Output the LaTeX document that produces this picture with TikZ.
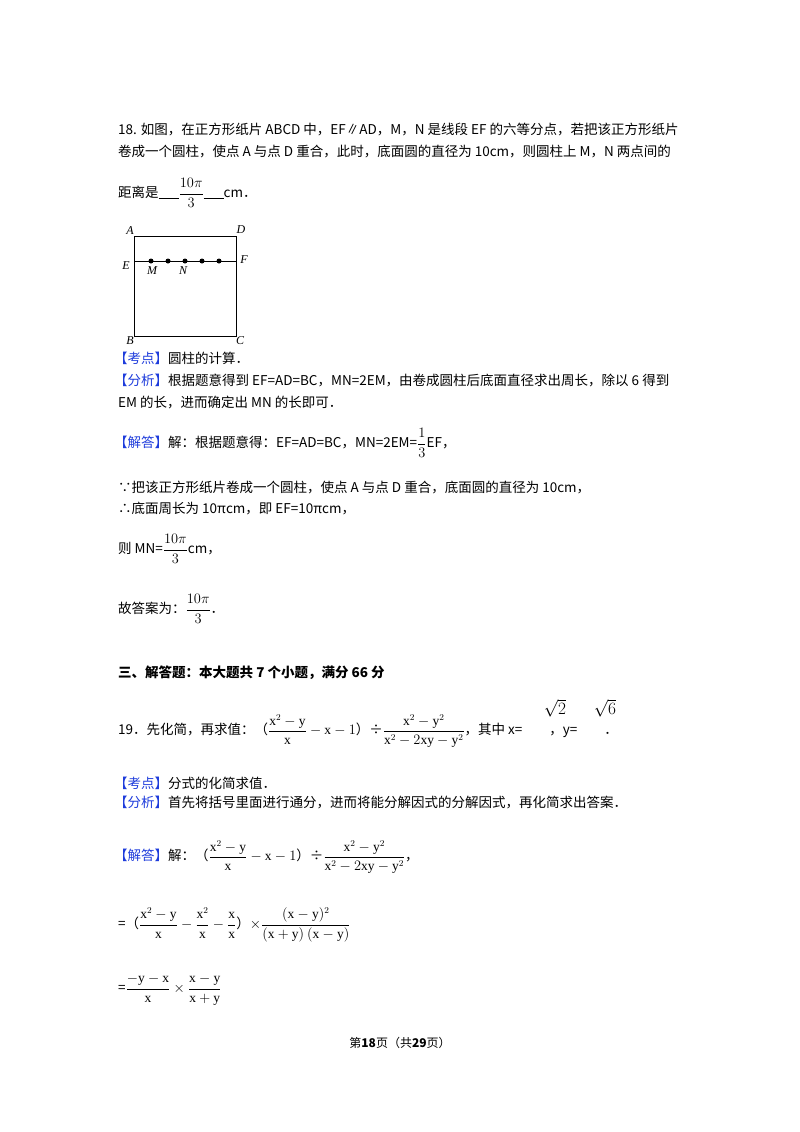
\documentclass[tikz,border=0pt]{standalone}
\usepackage{amsmath}
\usepackage{fontspec}
\setmainfont{Liberation Serif}
\newfontfamily\cjk{Noto Sans CJK SC}
\definecolor{kblue}{RGB}{30,60,220}
\newcommand{\kd}[1]{{\color{kblue}【#1】}}
\newcommand{\rx}{\mathrm{x}}
\newcommand{\ry}{\mathrm{y}}
\newcommand{\blank}{\rule[-1pt]{20pt}{0.6pt}}
\begin{document}
\begin{tikzpicture}[x=1pt,y=-1pt,
  txt/.style={anchor=west,inner sep=0pt,font=\fontsize{13.5}{16}\selectfont\cjk},
  lab/.style={inner sep=0pt,font=\fontsize{12}{14}\selectfont\itshape},
  dot/.style={circle,fill=black,inner sep=0pt,minimum size=5pt}]
\useasboundingbox (0,0) rectangle (800,1132);
\fill[white] (0,0) rectangle (800,1132);
\node[txt] (l1) at (118,130) {18. 如图，在正方形纸片 ABCD 中，EF∥AD，M，N 是线段 EF 的六等分点，若把该正方形纸片};
\node[txt] (l2) at (118,152) {卷成一个圆柱，使点 A 与点 D 重合，此时，底面圆的直径为 10cm，则圆柱上 M，N 两点间的};
\node[txt] (l3) at (118,193) {距离是\blank$\dfrac{10\pi}{3}$\blank cm．};
% figure
\coordinate (A) at (134,236); \coordinate (D) at (236,236);
\coordinate (B) at (134,336); \coordinate (C) at (236,336);
\coordinate (E) at (134,261); \coordinate (F) at (236,261);
\draw[line width=1pt] (A) -- (D) -- (C) -- (B) -- cycle;
\draw[line width=0.8pt] (E) -- (F);
\foreach \i/\xx in {1/151,2/168,3/185,4/202,5/219} \node[dot] (p\i) at (\xx,261) {};
\node[lab] (la) at (130,231) {A}; \node[lab] (ld) at (241,230) {D};
\node[lab] (le) at (126,266) {E}; \node[lab] (lf) at (244,260) {F};
\node[lab] (lm) at (152,271) {M}; \node[lab] (ln) at (183,271) {N};
\node[lab] (lb) at (130,341) {B}; \node[lab] (lc) at (240,341) {C};
\node[txt] (k1) at (114,358) {\kd{考点}圆柱的计算．};
\node[txt] (k2) at (114,380) {\kd{分析}根据题意得到 EF=AD=BC，MN=2EM，由卷成圆柱后底面直径求出周长，除以 6 得到};
\node[txt] (k3) at (118,403) {EM 的长，进而确定出 MN 的长即可．};
\node[txt] (k4) at (114,443) {\kd{解答}解：根据题意得：EF=AD=BC，MN=2EM=$\dfrac{1}{3}$EF，};
\node[txt] (k5) at (118,488) {∵把该正方形纸片卷成一个圆柱，使点 A 与点 D 重合，底面圆的直径为 10cm，};
\node[txt] (k6) at (118,509) {∴底面周长为 10πcm，即 EF=10πcm，};
\node[txt] (k7) at (118,549) {则 MN=$\dfrac{10\pi}{3}$cm，};
\node[txt] (k8) at (118,609) {故答案为：$\dfrac{10\pi}{3}$．};
\node[txt,font=\fontsize{13.5}{16}\selectfont\cjk\bfseries] (h3) at (118,673) {三、解答题：本大题共 7 个小题，满分 66 分};
\node[txt] (q19) at (118,731) {19．先化简，再求值：（$\dfrac{\rx^2-\ry}{\rx}-\rx-1$）÷$\dfrac{\rx^2-\ry^2}{\rx^2-2\rx\ry-\ry^2}$，其中 x=\quad\quad，y=\quad\quad．};
\node[inner sep=0pt,font=\fontsize{16}{18}\selectfont] (s2) at (555,708) {$\sqrt{2}$};
\node[inner sep=0pt,font=\fontsize{16}{18}\selectfont] (s6) at (605,708) {$\sqrt{6}$};
\node[txt] (a1) at (114,783) {\kd{考点}分式的化简求值．};
\node[txt] (a2) at (114,803) {\kd{分析}首先将括号里面进行通分，进而将能分解因式的分解因式，再化简求出答案．};
\node[txt] (a3) at (114,857) {\kd{解答}解：（$\dfrac{\rx^2-\ry}{\rx}-\rx-1$）÷$\dfrac{\rx^2-\ry^2}{\rx^2-2\rx\ry-\ry^2}$，};
\node[txt] (a4) at (118,925) {=（$\dfrac{\rx^2-\ry}{\rx}-\dfrac{\rx^2}{\rx}-\dfrac{\rx}{\rx}$）$\times\dfrac{(\rx-\ry)^2}{(\rx+\ry)\ (\rx-\ry)}$};
\node[txt] (a5) at (118,990) {=$\dfrac{-\ry-\rx}{\rx}\times\dfrac{\rx-\ry}{\rx+\ry}$};
\node[inner sep=0pt,font=\fontsize{12}{14}\selectfont\cjk] (ft) at (400,1043) {第\textbf{18}页（共\textbf{29}页）};
\end{tikzpicture}
\end{document}
